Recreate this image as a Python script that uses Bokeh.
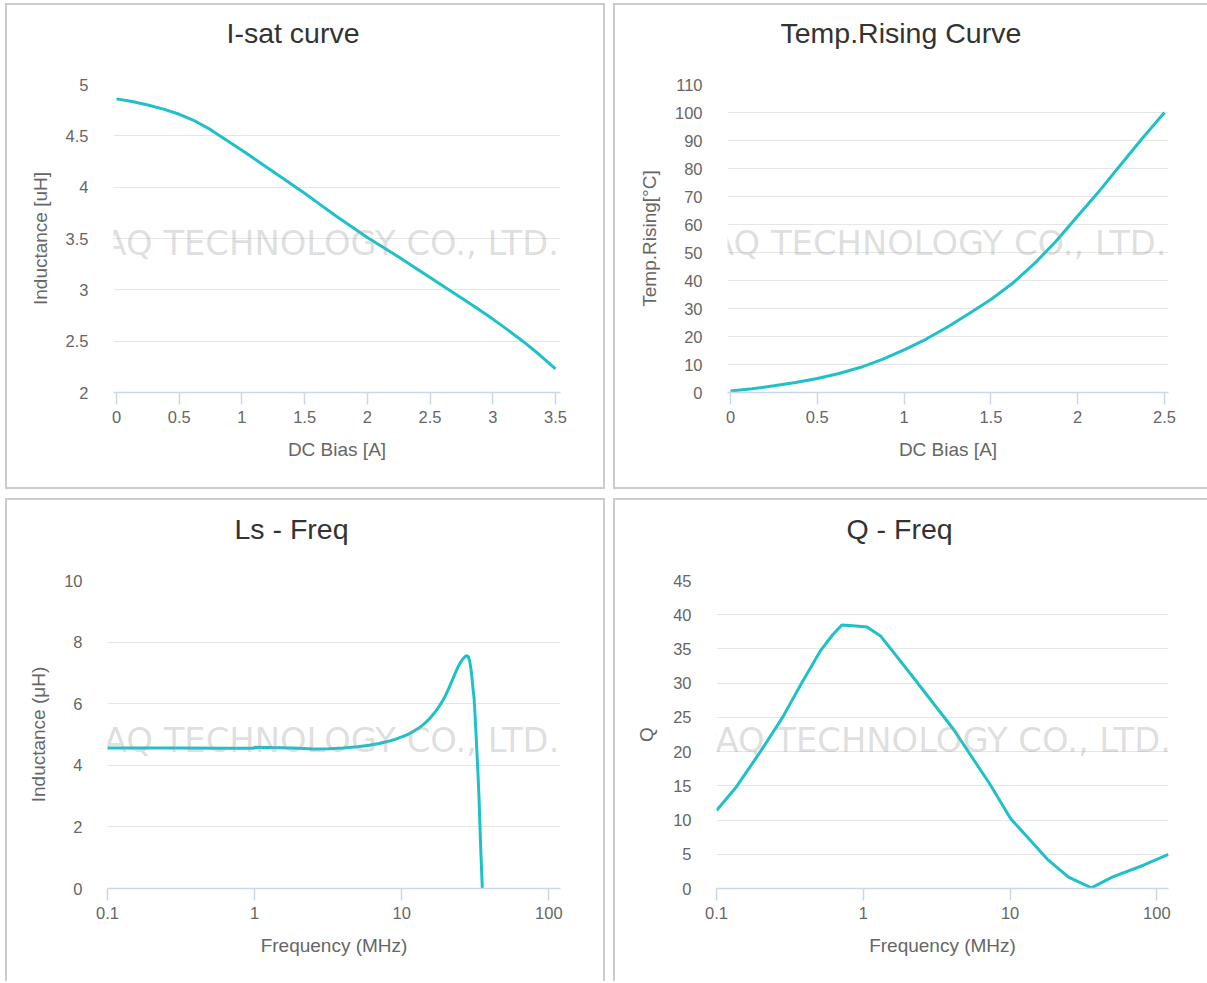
from bokeh.plotting import figure
from bokeh.models import Range1d, FixedTicker, CustomJSTickFormatter, Label, Title
from bokeh.layouts import row, column
from bokeh.embed import file_html
from bokeh.resources import INLINE

# ---------------- data ----------------
isat_current = [0, 0.125, 0.25, 0.375, 0.5, 0.625, 0.75, 0.875, 1.0, 1.125, 1.25, 1.375, 1.5,
                1.625, 1.75, 1.875, 2.0, 2.125, 2.25, 2.375, 2.5, 2.625, 2.75, 2.875, 3.0,
                3.125, 3.25, 3.375, 3.5]
isat_inductance = [4.86, 4.835, 4.80, 4.76, 4.71, 4.645, 4.56, 4.46, 4.36, 4.255, 4.15, 4.045, 3.94,
                   3.83, 3.72, 3.615, 3.51, 3.415, 3.32, 3.22, 3.12, 3.02, 2.92, 2.82, 2.715,
                   2.605, 2.49, 2.365, 2.23]

temp_current = [0, 0.125, 0.25, 0.375, 0.5, 0.625, 0.75, 0.875, 1.0, 1.125, 1.25, 1.375, 1.5,
                1.625, 1.75, 1.875, 2.0, 2.125, 2.25, 2.375, 2.5]
temp_rise = [0.5, 1.3, 2.4, 3.6, 5.0, 6.8, 9.0, 11.8, 15.2, 19.0, 23.4, 28.2, 33.2,
             39.0, 46.0, 54.0, 63.0, 72.0, 81.5, 91.0, 100.0]

ls_freq = [0.1, 0.3, 0.6, 0.99, 1.0, 1.5, 2.0, 2.5, 3.2, 4.0, 5.0, 6.0, 7.0, 8.0, 9.0, 10.0,
           11.0, 12.0, 13.0, 14.0, 15.0, 16.0, 17.0, 18.0, 19.0, 20.0, 21.0, 22.0, 23.0, 24.0,
           25.0, 26.0, 27.0, 27.7, 28.3, 28.9, 29.5, 30.0, 30.5, 31.0, 31.5, 32.0, 32.5, 33.0,
           33.5, 34.0, 34.5, 35.0, 35.3]
ls_inductance = [4.56, 4.56, 4.55, 4.55, 4.59, 4.57, 4.55, 4.53, 4.54, 4.56, 4.60, 4.65, 4.71, 4.77, 4.84, 4.92,
                 5.0, 5.1, 5.2, 5.32, 5.45, 5.6, 5.75, 5.92, 6.1, 6.3, 6.52, 6.75, 6.97, 7.17,
                 7.33, 7.45, 7.53, 7.56, 7.53, 7.4, 7.15, 6.85, 6.5, 6.2, 5.65, 5.0, 4.35, 3.7,
                 3.0, 2.05, 1.2, 0.45, 0.0]

q_freq = [0.1, 0.136, 0.195, 0.282, 0.378, 0.513, 0.615, 0.714, 0.85, 1.06, 1.31, 2.18, 4.1,
          7.26, 10.1, 17.9, 25.0, 35.8, 50.0, 81.0, 120.0]
q_value = [11.4, 14.8, 19.7, 25.0, 29.9, 34.8, 37.0, 38.5, 38.4, 38.2, 36.9, 30.9, 23.3,
           15.3, 10.2, 4.3, 1.65, 0.1, 1.7, 3.4, 5.0]

isat_xticks = [0, 0.5, 1, 1.5, 2, 2.5, 3, 3.5]
isat_yticks = [2, 2.5, 3, 3.5, 4, 4.5, 5]
temp_xticks = [0, 0.5, 1, 1.5, 2, 2.5]
temp_yticks = [0, 10, 20, 30, 40, 50, 60, 70, 80, 90, 100, 110]
freq_xticks = [0.1, 1, 10, 100]
ls_yticks = [0, 2, 4, 6, 8, 10]
q_yticks = [0, 5, 10, 15, 20, 25, 30, 35, 40, 45]

WATERMARK = "INPAQ TECHNOLOGY CO., LTD."

# ---------------- styling ----------------
FONT = "Liberation Sans"
LINE = "#1fc1c8"
FMT = CustomJSTickFormatter(code="return String(Math.round(tick*1000)/1000);")


def make_fig(width, height, xr, yr, x_type, mb, title, title_offset, title_standoff, spacer,
             xlabel, ylabel, xticks, yticks, ylab_standoff, shadow):
    p = figure(width=width, height=height, x_range=Range1d(*xr), y_range=Range1d(*yr),
               x_axis_type=x_type, output_backend="svg", toolbar_location=None,
               min_border_left=mb[0], min_border_right=mb[1], min_border_top=mb[2],
               min_border_bottom=mb[3], styles={"box-shadow": shadow})
    p.outline_line_color = None
    p.background_fill_color = "white"
    p.border_fill_color = "white"

    # spacer between frame and title (first "above" item sits nearest the frame)
    p.add_layout(Title(text=" ", text_font_size="1px", standoff=spacer), "above")
    p.add_layout(Title(text=title, text_font=FONT, text_font_size="28.5px",
                       text_font_style="normal", text_color="#333333", align="left",
                       offset=title_offset, standoff=title_standoff), "above")

    xa = p.xaxis[0]
    xa.ticker = FixedTicker(ticks=xticks)
    xa.formatter = FMT
    xa.axis_label = xlabel
    xa.axis_line_color = "#ccd6eb"
    xa.axis_line_width = 1.5
    xa.major_tick_line_color = "#ccd6eb"
    xa.major_tick_line_width = 1.5
    xa.major_tick_out = 12
    xa.major_tick_in = 0
    xa.minor_tick_line_color = None
    xa.major_label_standoff = 6
    xa.axis_label_standoff = 13

    ya = p.yaxis[0]
    ya.ticker = FixedTicker(ticks=yticks)
    ya.formatter = FMT
    ya.axis_label = ylabel
    ya.axis_line_color = None
    ya.major_tick_line_color = None
    ya.minor_tick_line_color = None
    ya.major_tick_out = 0
    ya.major_tick_in = 0
    ya.major_label_standoff = 25
    ya.axis_label_standoff = ylab_standoff

    for ax in (xa, ya):
        ax.major_label_text_font = FONT
        ax.major_label_text_font_size = "16.5px"
        ax.major_label_text_color = "#666666"
        ax.axis_label_text_font = FONT
        ax.axis_label_text_font_size = "19px"
        ax.axis_label_text_font_style = "normal"
        ax.axis_label_text_color = "#666666"

    p.xgrid.grid_line_color = None
    p.ygrid.grid_line_color = "#e6e6e6"
    p.ygrid.grid_line_width = 1
    return p


def add_watermark(p, x, y):
    p.add_layout(Label(x=x, y=y, text=WATERMARK, text_font="DejaVu Sans",
                       text_font_size="33.8px", text_color="#9a9a9a", text_alpha=0.32,
                       text_baseline="middle", text_align="left"))


SH_ALL = "0 0 0 2px #cccccc"
SH_LTB = "-2px 0 0 0 #cccccc, 0 -2px 0 0 #cccccc, 0 2px 0 0 #cccccc, -2px -2px 0 0 #cccccc, -2px 2px 0 0 #cccccc"
SH_LTR = "-2px 0 0 0 #cccccc, 2px 0 0 0 #cccccc, 0 -2px 0 0 #cccccc, -2px -2px 0 0 #cccccc, 2px -2px 0 0 #cccccc"
SH_LT = "-2px 0 0 0 #cccccc, 0 -2px 0 0 #cccccc, -2px -2px 0 0 #cccccc"

p1 = make_fig(596, 482, (-0.024, 3.54), (2, 5), "linear", (106, 43, 79, 95),
              "I-sat curve", 113, 19, 23, "DC Bias [A]", "Inductance [uH]",
              isat_xticks, isat_yticks, 12, SH_ALL)
p1.line(isat_current, isat_inductance, line_color=LINE, line_width=3)
add_watermark(p1, -0.53, 3.45)

p2 = make_fig(592, 482, (-0.0173, 2.523), (0, 110), "linear", (112, 39, 79, 95),
              "Temp.Rising Curve", 53, 19, 23, "DC Bias [A]", "Temp.Rising[°C]",
              temp_xticks, temp_yticks, 12, SH_LTB)
p2.line(temp_current, temp_rise, line_color=LINE, line_width=3)
add_watermark(p2, -0.42, 53.2)

p3 = make_fig(596, 481, (0.1, 120), (0, 10), "log", (100, 43, 80, 93),
              "Ls - Freq", 127, 21, 22, "Frequency (MHz)", "Inductance (μH)",
              freq_xticks, ls_yticks, 12, SH_LTR)
p3.line(ls_freq, ls_inductance, line_color=LINE, line_width=3)
add_watermark(p3, 0.0409, 4.8)

p4 = make_fig(592, 481, (0.1, 120), (0, 45), "log", (101, 39, 80, 93),
              "Q - Freq", 130, 21, 22, "Frequency (MHz)", "Q",
              freq_xticks, q_yticks, 13, SH_LT)
p4.line(q_freq, q_value, line_color=LINE, line_width=3)
add_watermark(p4, 0.0425, 21.6)

layout = column(row(p1, p2, spacing=12), row(p3, p4, spacing=12), spacing=13,
                margin=(5, 0, 0, 7))

open("out.html", "w").write(file_html(layout, INLINE))
